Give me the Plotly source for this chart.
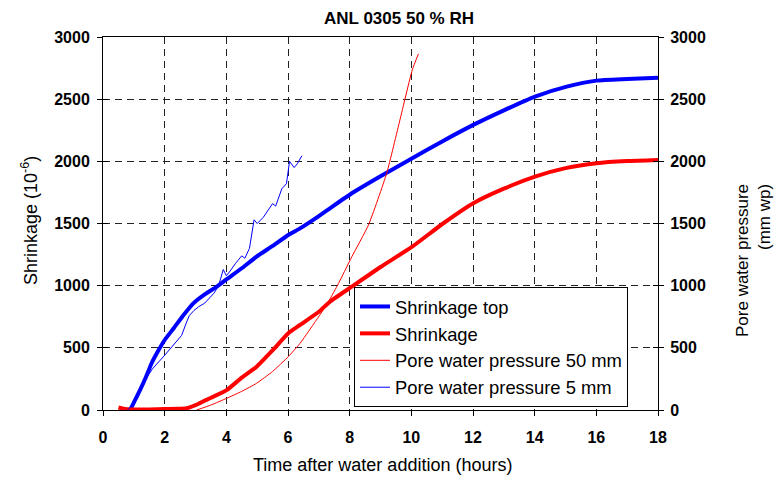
import plotly.graph_objects as go

# Shrinkage top (blue thick)
top_x = [0.88, 1.0, 1.2, 1.4, 1.58, 1.8, 2.0, 2.3, 2.6, 2.93, 3.3, 3.69, 4.0, 4.5, 4.98, 5.5, 6.01, 6.39, 7.0, 7.36, 8.07, 9.0, 10.03, 11.0, 12.01, 13.0, 14.01, 15.04, 16.01, 17.0, 18.0]
top_y = [0, 60, 160, 270, 378, 480, 563, 660, 760, 858, 930, 992, 1050, 1140, 1233, 1320, 1408, 1461, 1560, 1622, 1743, 1880, 2025, 2160, 2293, 2410, 2521, 2601, 2649, 2662, 2673]

# Shrinkage (red thick)
shr_x = [0.5, 0.7, 1.0, 1.5, 2.0, 2.4, 2.71, 3.0, 3.3, 3.6, 4.01, 4.5, 4.98, 5.5, 6.01, 6.39, 7.0, 7.36, 8.07, 9.0, 10.03, 11.04, 12.01, 13.0, 14.01, 15.0, 16.01, 17.0, 18.0]
shr_y = [20, 8, 5, 5, 8, 10, 15, 40, 75, 110, 160, 260, 348, 480, 617, 684, 790, 871, 992, 1150, 1314, 1502, 1663, 1780, 1877, 1945, 1985, 2002, 2011]

# Pore water pressure 50 mm (red thin)
p50_x = [3.04, 3.5, 4.01, 4.5, 4.98, 5.5, 6.01, 6.39, 6.8, 7.25, 7.6, 8.07, 8.61, 9.2, 9.63, 10.03, 10.23]
p50_y = [0, 40, 94, 150, 215, 310, 429, 536, 680, 845, 1000, 1233, 1488, 1904, 2333, 2735, 2864]

# Pore water pressure 5 mm (blue thin)
p5_x = [0.8, 1.0, 1.3, 1.6, 2.0, 2.2, 2.4, 2.55, 2.7, 2.8, 2.95, 3.1, 3.3, 3.45, 3.6, 3.75, 3.9, 4.0, 4.1, 4.3, 4.5, 4.6, 4.75, 4.9, 5.0, 5.2, 5.4, 5.5, 5.6, 5.8, 5.95, 6.05, 6.2, 6.3, 6.45]
p5_y = [0, 60, 215, 330, 440, 500, 560, 600, 700, 760, 800, 830, 860, 900, 940, 1000, 1130, 1080, 1110, 1180, 1240, 1220, 1300, 1530, 1500, 1550, 1620, 1660, 1640, 1780, 1820, 2000, 1950, 1980, 2045]

x_ticks = [0, 2, 4, 6, 8, 10, 12, 14, 16, 18]
y_ticks = [0, 500, 1000, 1500, 2000, 2500, 3000]

FONT = "Liberation Sans, Arial, sans-serif"

fig = go.Figure()
fig.add_trace(go.Scatter(x=top_x, y=top_y, mode="lines", name="Shrinkage top",
                         line=dict(color="#0000FF", width=4, shape="spline", smoothing=0.5)))
fig.add_trace(go.Scatter(x=shr_x, y=shr_y, mode="lines", name="Shrinkage",
                         line=dict(color="#FF0000", width=4, shape="spline", smoothing=0.5)))
fig.add_trace(go.Scatter(x=p50_x, y=p50_y, mode="lines", name="Pore water pressure 50 mm",
                         line=dict(color="#FF0000", width=1, shape="spline", smoothing=0.5),
                         yaxis="y2"))
fig.add_trace(go.Scatter(x=p5_x, y=p5_y, mode="lines", name="Pore water pressure 5 mm",
                         line=dict(color="#0000FF", width=1), yaxis="y2"))

grid = dict(showgrid=True, gridcolor="#222222", gridwidth=1, griddash="7px,5px")
tickfont = dict(family=FONT, size=16, color="black", weight="bold")
titlefont = dict(family=FONT, size=18, color="black")

fig.update_layout(
    width=774, height=477,
    margin=dict(l=103, r=116, t=37, b=67),
    paper_bgcolor="white", plot_bgcolor="white",
    font=dict(family=FONT, size=16, color="black"),
    title=dict(text="ANL 0305 50 % RH", x=(399 / 774), xanchor="center",
               y=1 - 18 / 477, yanchor="middle",
               font=dict(family=FONT, size=17, color="black", weight="bold")),
    xaxis=dict(range=[0, 18], tickvals=x_ticks, ticks="outside", ticklen=5,
               tickcolor="black", showline=True, linecolor="black", linewidth=1,
               mirror=True, tickfont=tickfont, zeroline=False, ticklabelstandoff=8,
               **grid),
    xaxis2=dict(range=[0, 18], tickvals=x_ticks, ticks="inside", ticklen=5,
                tickcolor="black", overlaying="x", side="bottom", anchor="y",
                showticklabels=False, showgrid=False, showline=False, zeroline=False),
    yaxis=dict(range=[0, 3000], tickvals=y_ticks, ticks="outside", ticklen=5,
               tickcolor="black", showline=True, linecolor="black", linewidth=1,
               mirror="ticks", tickfont=tickfont, zeroline=False, ticklabelstandoff=4,
               **grid),
    yaxis2=dict(range=[0, 3000], tickvals=y_ticks, ticks="inside", ticklen=5,
                tickcolor="black", showline=True, linecolor="black", linewidth=1,
                mirror="ticks", overlaying="y", side="right", showgrid=False,
                zeroline=False, tickfont=tickfont, ticklabelstandoff=8),
    legend=dict(x=(354 - 103) / 555, y=(410 - 287) / 373, xanchor="left", yanchor="top",
                bgcolor="white", bordercolor="black", borderwidth=1,
                font=dict(family=FONT, size=18.4, color="black"),
                tracegroupgap=0, itemwidth=30),
    showlegend=True,
    annotations=[
        dict(text="Time after water addition (hours)", xref="paper", yref="paper",
             x=(382 - 103) / 555, y=-(465 - 410) / 373,
             xanchor="center", yanchor="middle", showarrow=False, font=titlefont),
        dict(text="Shrinkage (10<sup>-6</sup>)", xref="paper", yref="paper",
             x=(29 - 103) / 555, y=(410 - 221) / 373, textangle=-90,
             xanchor="center", yanchor="middle", showarrow=False, font=titlefont),
        dict(text="Pore water pressure<br>(mm wp)", xref="paper", yref="paper",
             x=(753 - 103) / 555, y=(410 - 261) / 373, textangle=-90, align="right",
             xanchor="center", yanchor="middle", showarrow=False,
             font=dict(family=FONT, size=17, color="black")),
    ],
)

fig.write_html("out.html", config={"displayModeBar": False},
               post_script="document.body.style.margin='0';")
